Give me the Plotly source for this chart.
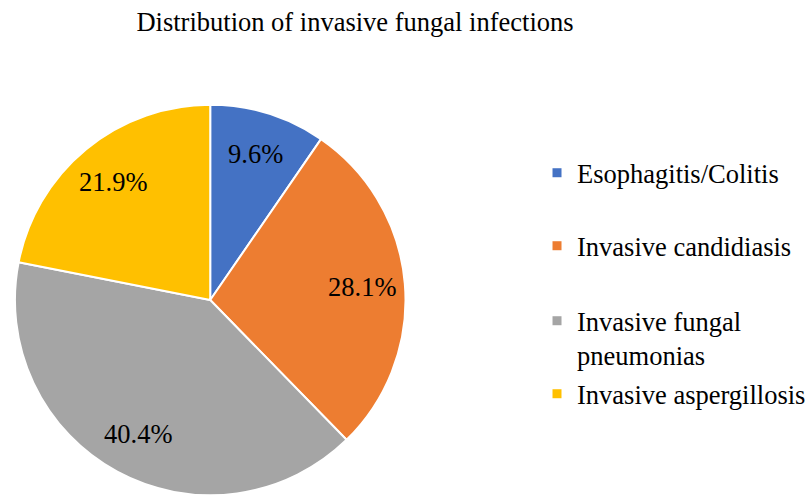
import math
import plotly.graph_objects as go

# ---- data ----
categories = ["Esophagitis/Colitis", "Invasive candidiasis",
              "Invasive fungal pneumonias", "Invasive aspergillosis"]
legend_labels = ["Esophagitis/Colitis", "Invasive candidiasis",
                 "Invasive fungal<br>pneumonias", "Invasive aspergillosis"]
values = [9.6, 28.1, 40.4, 21.9]
colors = ["#4472C4", "#ED7D31", "#A5A5A5", "#FFC000"]
title_text = "Distribution of invasive fungal infections"

# ---- layout constants ----
W, H = 811, 496
CX, CY, R = 211, 300, 196   # pie centre / radius in px
FONT = "Liberation Serif"
FS = 26.5

fig = go.Figure()
fig.add_trace(go.Pie(
    labels=categories, values=values, sort=False, direction="clockwise",
    rotation=0, marker=dict(colors=colors, line=dict(color="white", width=2)),
    textinfo="none", hoverinfo="label+percent", showlegend=False,
    domain=dict(x=[(CX - R) / W, (CX + R) / W], y=[0, 2 * R / H]),
))

# data labels placed at mid-angle of each slice
total = sum(values)
annotations = []
cum = 0.0
for v in values:
    mid = (cum + v / 2) / total
    cum += v
    th = 2 * math.pi * mid
    r = 0.78 * R
    px = CX + r * math.sin(th)
    py = CY - r * math.cos(th)
    annotations.append(dict(x=px / W, y=1 - py / H, xref="paper", yref="paper",
                            text=f"{v / total * 100:.1f}%", showarrow=False,
                            font=dict(family=FONT, size=FS, color="black"),
                            xanchor="center", yanchor="middle"))

# legend entries (one legend per entry, to reproduce the spacing)
legend_tops = [176, 249, 324, 397]
legend_names = ["legend", "legend2", "legend3", "legend4"]
for lab, col, ln in zip(legend_labels, colors, legend_names):
    fig.add_trace(go.Scatter(x=[None], y=[None], mode="markers", name=lab,
                             marker=dict(symbol="square", size=9, color=col),
                             legend=ln, hoverinfo="skip"))

leg_common = dict(font=dict(family=FONT, size=FS, color="black"),
                  bgcolor="rgba(0,0,0,0)", xanchor="left", yanchor="top",
                  valign="top", itemsizing="trace")
legends = {}
for ln, ty in zip(legend_names, legend_tops):
    legends[ln] = dict(leg_common, x=539 / W, y=1 - (ty - 27) / H)

fig.update_layout(
    width=W, height=H, margin=dict(l=0, r=0, t=0, b=0),
    paper_bgcolor="white", plot_bgcolor="white",
    title=dict(text=title_text, x=355 / W, xanchor="center",
               y=1 - 22 / H, yanchor="middle", yref="container",
               font=dict(family=FONT, size=FS, color="black")),
    xaxis=dict(visible=False), yaxis=dict(visible=False),
    annotations=annotations,
    **legends,
)

fig.write_html("out.html")
